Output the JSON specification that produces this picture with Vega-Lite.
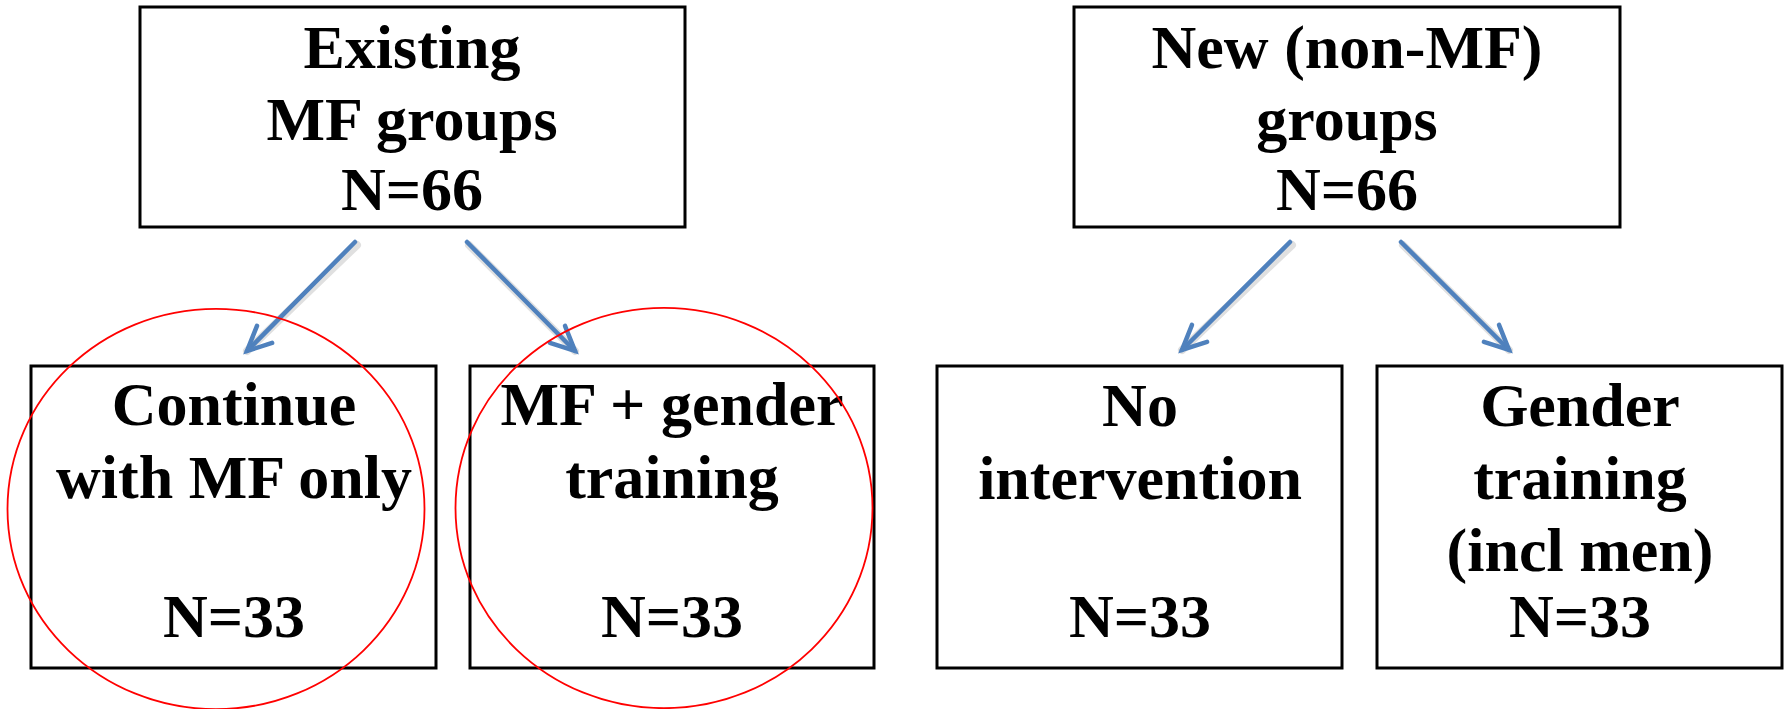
{
  "$schema": "https://vega.github.io/schema/vega-lite/v6.json",
  "width": 1787,
  "height": 709,
  "padding": 0,
  "autosize": {"type": "fit", "contains": "padding"},
  "background": "white",
  "config": {"view": {"stroke": null}},
  "datasets": {
    "boxes": [
      {"box": "Existing MF groups", "x": 140, "x2": 685, "y": 7, "y2": 227},
      {"box": "New (non-MF) groups", "x": 1074, "x2": 1620, "y": 7, "y2": 227},
      {"box": "Continue with MF only", "x": 31, "x2": 436, "y": 366, "y2": 668},
      {"box": "MF + gender training", "x": 470, "x2": 874, "y": 366, "y2": 668},
      {"box": "No intervention", "x": 937, "x2": 1342, "y": 366, "y2": 668},
      {"box": "Gender training (incl men)", "x": 1377, "x2": 1782, "y": 366, "y2": 668}
    ],
    "texts": [
      {"x": 412, "y": 68, "label": "Existing"},
      {"x": 412, "y": 140, "label": "MF groups"},
      {"x": 412, "y": 210, "label": "N=66"},
      {"x": 1347, "y": 68, "label": "New (non-MF)"},
      {"x": 1347, "y": 140, "label": "groups"},
      {"x": 1347, "y": 210, "label": "N=66"},
      {"x": 234, "y": 425, "label": "Continue"},
      {"x": 234, "y": 498, "label": "with MF only"},
      {"x": 234, "y": 637, "label": "N=33"},
      {"x": 672, "y": 425, "label": "MF + gender"},
      {"x": 672, "y": 498, "label": "training"},
      {"x": 672, "y": 637, "label": "N=33"},
      {"x": 1140, "y": 426, "label": "No"},
      {"x": 1140, "y": 499, "label": "intervention"},
      {"x": 1140, "y": 637, "label": "N=33"},
      {"x": 1580, "y": 426, "label": "Gender"},
      {"x": 1580, "y": 499, "label": "training"},
      {"x": 1580, "y": 571, "label": "(incl men)"},
      {"x": 1580, "y": 637, "label": "N=33"}
    ],
    "arrows": [
      {"dir": "left", "x": 355, "y": 242, "x2": 247, "y2": 351},
      {"dir": "right", "x": 467, "y": 242, "x2": 575, "y2": 351},
      {"dir": "left", "x": 1290, "y": 242, "x2": 1182, "y2": 350},
      {"dir": "right", "x": 1401, "y": 242, "x2": 1509, "y2": 350}
    ],
    "ellipses": [
      {"x": 216, "y": 509},
      {"x": 664, "y": 508}
    ]
  },
  "layer": [
    {
      "data": {"name": "boxes"},
      "mark": {"type": "rect", "fill": "white", "stroke": "black", "strokeWidth": 3, "clip": true},
      "encoding": {
        "x": {"field": "x", "type": "quantitative", "scale": {"domain": [0, 1787], "nice": false, "zero": false}, "axis": null},
        "x2": {"field": "x2"},
        "y": {"field": "y", "type": "quantitative", "scale": {"domain": [0, 709], "nice": false, "zero": false, "reverse": true}, "axis": null},
        "y2": {"field": "y2"}
      }
    },
    {
      "data": {"name": "texts"},
      "mark": {"type": "text", "font": "Liberation Serif", "fontWeight": "bold", "fontSize": 62, "align": "center", "baseline": "alphabetic", "color": "black"},
      "encoding": {
        "x": {"field": "x", "type": "quantitative"},
        "y": {"field": "y", "type": "quantitative"},
        "text": {"field": "label"}
      }
    },
    {
      "data": {"name": "arrows"},
      "mark": {"type": "rule", "stroke": "#000000", "opacity": 0.12, "strokeWidth": 8, "strokeCap": "round", "xOffset": 2, "yOffset": 3},
      "encoding": {
        "x": {"field": "x", "type": "quantitative"},
        "y": {"field": "y", "type": "quantitative"},
        "x2": {"field": "x2"},
        "y2": {"field": "y2"}
      }
    },
    {
      "data": {"name": "arrows"},
      "mark": {"type": "rule", "stroke": "#4F81BD", "strokeWidth": 4.5, "strokeCap": "round"},
      "encoding": {
        "x": {"field": "x", "type": "quantitative"},
        "y": {"field": "y", "type": "quantitative"},
        "x2": {"field": "x2"},
        "y2": {"field": "y2"}
      }
    },
    {
      "data": {"name": "arrows"},
      "transform": [{"filter": "datum.dir === 'left'"}],
      "mark": {"type": "point", "shape": "M 0.37 -0.93 L 0 0 L 0.93 -0.3", "size": 2916, "filled": false, "stroke": "#4F81BD", "strokeWidth": 4.5, "strokeCap": "round", "strokeJoin": "miter", "opacity": 1},
      "encoding": {
        "x": {"field": "x2", "type": "quantitative"},
        "y": {"field": "y2", "type": "quantitative"}
      }
    },
    {
      "data": {"name": "arrows"},
      "transform": [{"filter": "datum.dir === 'right'"}],
      "mark": {"type": "point", "shape": "M -0.37 -0.93 L 0 0 L -0.93 -0.3", "size": 2916, "filled": false, "stroke": "#4F81BD", "strokeWidth": 4.5, "strokeCap": "round", "strokeJoin": "miter", "opacity": 1},
      "encoding": {
        "x": {"field": "x2", "type": "quantitative"},
        "y": {"field": "y2", "type": "quantitative"}
      }
    },
    {
      "data": {"name": "ellipses"},
      "mark": {"type": "point", "shape": "M -1 0 A 1 0.96 0 1 0 1 0 A 1 0.96 0 1 0 -1 0 Z", "size": 173889, "filled": false, "stroke": "#FF0000", "strokeWidth": 1.8, "opacity": 1, "clip": true},
      "encoding": {
        "x": {"field": "x", "type": "quantitative"},
        "y": {"field": "y", "type": "quantitative"}
      }
    }
  ]
}
